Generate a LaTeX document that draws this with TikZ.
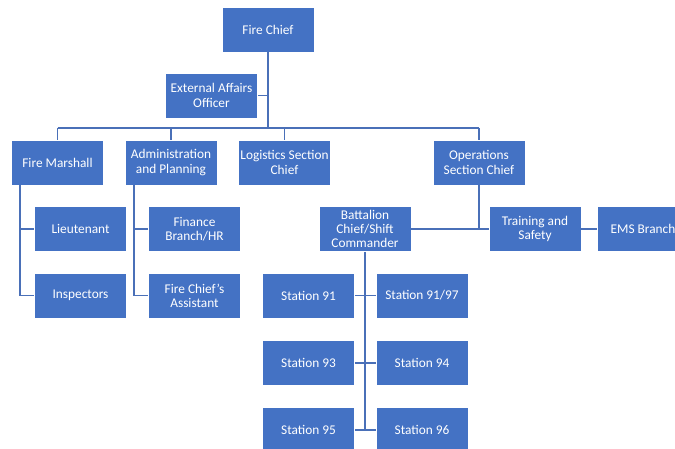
\documentclass[tikz,border=0pt]{standalone}
\usepackage{fontspec}
\setmainfont{Carlito}
\definecolor{boxblue}{HTML}{4472C4}
\definecolor{lineblue}{HTML}{4A70B8}
\tikzset{
	post/.style={draw=white, line width=0.5pt, fill=boxblue, text=white,
		minimum width=69pt, minimum height=33.75pt, inner sep=1pt,
		align=center, font=\fontsize{10}{10.7}\selectfont},
	link/.style={draw=lineblue, line width=1.1pt}
}
\begin{document}
\begin{tikzpicture}[x=0.75pt, y=-0.75pt]
\useasboundingbox (0,0) rectangle (675,449);
\begin{scope}
\clip (0,0) rectangle (675,449);
\node[post] (chief) at (268,29.5) {Fire Chief};
\node[post] (extaff) at (211.5,95.5) {External Affairs\\Officer};
\node[post] (marshall) at (57.5,162.5) {Fire Marshall};
\node[post] (admin) at (171,162.5) {Administration\\and Planning};
\node[post] (logist) at (284.5,162.5) {Logistics Section\\Chief};
\node[post] (ops) at (479,162.5) {Operations\\Section Chief};
\node[post] (lieut) at (80.5,229) {Lieutenant};
\node[post] (insp) at (80.5,295.5) {Inspectors};
\node[post] (finance) at (194.5,229) {Finance\\Branch/HR};
\node[post] (assist) at (194.5,295.5) {Fire Chief’s\\Assistant};
\node[post] (batt) at (365,229) {Battalion\\Chief/Shift\\Commander};
\node[post] (train) at (535,229) {Training and\\Safety};
\node[post] (ems) at (643,229) {EMS Branch};
\foreach \y / \l / \r in {295.5/91/91\slash97, 363/93/94, 430/95/96}
{
	\node[post] (st\l) at (308.5,\y) {Station \l};
	\node[post] (sr\l) at (422,\y) {Station \r};
	\draw[link] (st\l.east) -- (sr\l.west);
}
% top level
\coordinate (bar) at (0,128);
\draw[link] (chief.south) -- (chief.south |- bar);
\draw[link] (extaff.east) -- (chief.south |- extaff.east);
\draw[link] (marshall.north |- bar) -- (ops.north |- bar);
\foreach \n in {marshall, admin, logist, ops}
	\draw[link] (\n.north |- bar) -- (\n.north);
% fire marshall and admin
\coordinate (fm) at (20,185);
\coordinate (ap) at (134,185);
\draw[link] (fm) |- (insp.west);
\draw[link] (fm |- lieut.west) -- (lieut.west);
\draw[link] (ap) |- (assist.west);
\draw[link] (ap |- finance.west) -- (finance.west);
% operations
\draw[link] (ops.south) -- (ops.south |- batt.east);
\draw[link] (batt.east) -- (train.west);
\draw[link] (train.east) -- (ems.west);
\draw[link] (batt.south) -- (batt.south |- st95.east);
\end{scope}
\end{tikzpicture}
\end{document}
